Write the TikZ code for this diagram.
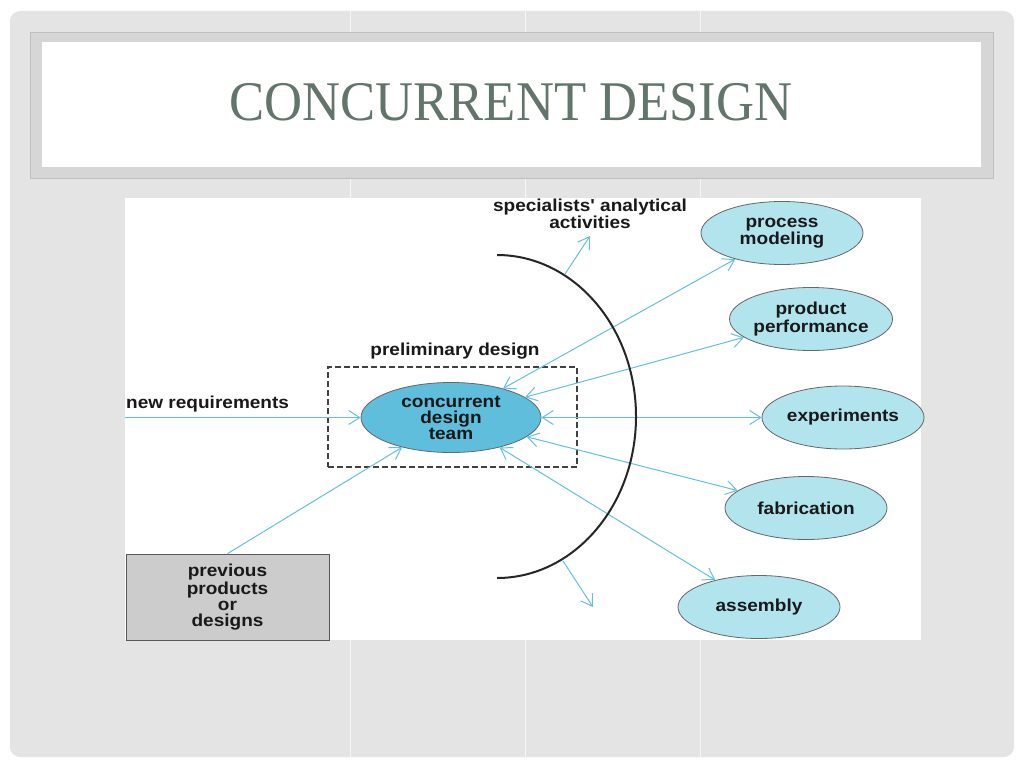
\documentclass[tikz,border=0pt]{standalone}
\usepackage{fontspec}
\newfontfamily\titlefont{Liberation Serif}[FakeStretch=0.94]
\newfontfamily\labelfont{Liberation Sans}[FakeStretch=1.1]
\usetikzlibrary{arrows.meta,shapes.geometric,positioning}
\definecolor{slidegray}{RGB}{228,228,228}
\definecolor{seamgray}{RGB}{246,246,246}
\definecolor{framegray}{RGB}{214,214,214}
\definecolor{titlegreen}{RGB}{98,117,106}
\definecolor{linkblue}{RGB}{100,192,220}
\definecolor{teamblue}{RGB}{94,190,220}
\definecolor{taskblue}{RGB}{178,228,238}
\definecolor{boxgray}{RGB}{204,204,204}
\begin{document}
\begin{tikzpicture}[x=1pt,y=-1pt,
    >={Straight Barb[length=11pt,width=14pt]},
    labeltext/.style={font=\labelfont\bfseries\fontsize{17.3}{16}\selectfont,
        text=black!90, align=center, inner sep=0pt},
    team/.style={ellipse, draw=black!60, fill=teamblue, line width=0.8pt,
        minimum width=180pt, minimum height=70pt, labeltext},
    task/.style={ellipse, draw=black!60, fill=taskblue, line width=0.8pt,
        minimum width=162pt, minimum height=63pt, labeltext},
    link/.style={draw=linkblue, line width=1pt}]
    \useasboundingbox (0,0) rectangle (1024,768);

    % Slide background
    \fill[white] (0,0) rectangle (1024,768);
    \fill[slidegray, rounded corners=10pt] (10,11) rectangle (1014,757);
    \foreach \gx in {350.5,525.5,700.5}
        \draw[seamgray, line width=1pt] (\gx,11) -- (\gx,757);

    % Title frame
    \filldraw[fill=framegray, draw=black!25] (30,32) rectangle (993,178);
    \fill[white] (42,42) rectangle (981,167);
    \node[font=\titlefont\fontsize{56}{60}\selectfont, text=titlegreen] (title) at (511,102) {CONCURRENT DESIGN};

    % Diagram area
    \fill[white] (125,198) rectangle (921,640);

    % Preliminary design
    \node[draw=black!75, line width=1.1pt, dash pattern=on 6pt off 3pt,
        minimum width=249pt, minimum height=100pt] (prelimbox) at (452.5,417) {};
    \node[labeltext] (prelim) at (455,351) {preliminary design};
    \node[team] (team) at (451,417.5) {concurrent\\design\\team};

    % Inputs
    \node[labeltext, anchor=west] (newreq) at (126,404) {new requirements};
    \coordinate (reqin) at (125,417.5);
    \node[draw=black!65, fill=boxgray, line width=0.8pt, minimum width=203pt,
        minimum height=86pt, labeltext] (prev) at (227.5,597) {previous\\products\\or\\designs};
    \draw[link,->] (reqin) -- (team);
    \draw[link,->] (prev.north) -- (team);

    % Specialists
    \node[labeltext] (spec) at (590,214) {specialists' analytical\\activities};
    \node[task] (procmod) at (782,233) {process\\modeling};
    \node[task] (prodperf) at (811,319) {product\\performance};
    \node[task] (exper) at (843,417.5) {experiments};
    \node[task] (fabric) at (806,508) {fabrication};
    \node[task] (assem) at (759,607) {assembly};
    \foreach \t in {procmod,prodperf,exper,fabric,assem}
        \draw[link,<->] (team) -- (\t);

    % Boundary arc
    \draw[line width=2pt, black!85] (497,255) arc[start angle=-90, end angle=90, x radius=139, y radius=161.5];
    \coordinate (arctop) at (565,274);
    \coordinate (specup) at (590,236);
    \coordinate (arcbot) at (563,561);
    \coordinate (specdown) at (593,607);
    \draw[link,->] (arctop) -- (specup);
    \draw[link,->] (arcbot) -- (specdown);
\end{tikzpicture}
\end{document}
